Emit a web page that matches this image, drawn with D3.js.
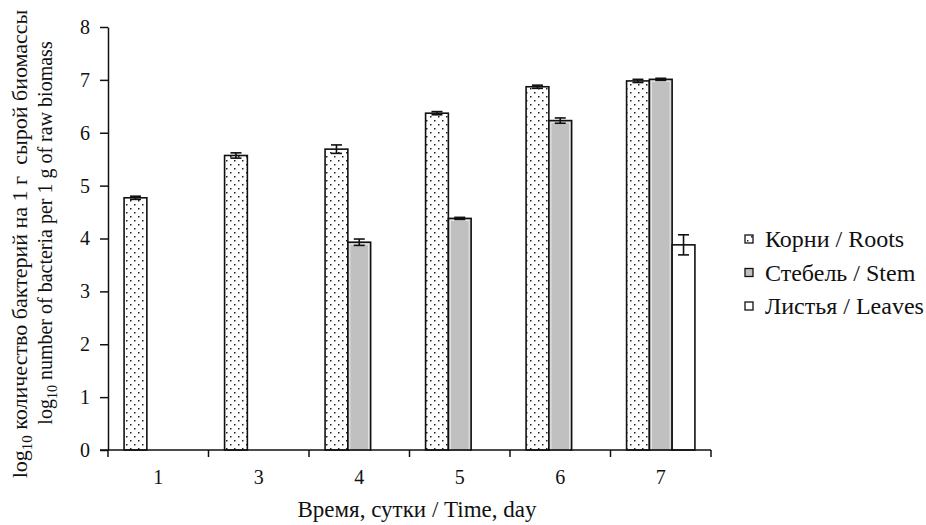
<!DOCTYPE html>
<html>
<head>
<meta charset="utf-8">
<script src="https://cdn.jsdelivr.net/npm/d3@7"></script>
<style>
  body { margin: 0; background: #fff; }
  text { font-family: "Liberation Serif", "Times New Roman", serif; fill: #111; }
</style>
</head>
<body>
<svg id="chart" width="926" height="525"></svg>
<script>
// data
var days = ['1', '3', '4', '5', '6', '7'];
var roots = [4.77, 5.57, 5.69, 6.37, 6.87, 6.98];
var rootsErr = [0.03, 0.05, 0.08, 0.03, 0.03, 0.03];
var stem = [null, null, 3.93, 4.38, 6.23, 7.01];
var stemErr = [null, null, 0.06, 0.02, 0.05, 0.02];
var leaves = [null, null, null, null, null, 3.88];
var leavesErr = [null, null, null, null, null, 0.19];
var seriesNames = ['Корни / Roots', 'Стебель / Stem', 'Листья / Leaves'];
var yTicks = [0, 1, 2, 3, 4, 5, 6, 7, 8];

var margin = {top: 27, left: 108, right: 215, bottom: 75};
var width = 926 - margin.left - margin.right,
    height = 525 - margin.top - margin.bottom;

var svg = d3.select('#chart');
var defs = svg.append('defs');

var pat = defs.append('pattern')
    .attr('id', 'dots')
    .attr('patternUnits', 'userSpaceOnUse')
    .attr('width', 8)
    .attr('height', 8);
pat.append('rect').attr('width', 8).attr('height', 8).attr('fill', '#fff');
pat.append('rect').attr('x', 2).attr('y', 1).attr('width', 1.5).attr('height', 1.5).attr('fill', '#222');
pat.append('rect').attr('x', 6).attr('y', 5).attr('width', 1.5).attr('height', 1.5).attr('fill', '#222');

var g = svg.append('g')
    .attr('transform', `translate(${margin.left}, ${margin.top})`);

var x0 = d3.scaleBand()
    .domain(days)
    .range([0, width])
    .paddingInner(0.32)
    .paddingOuter(0.16);

var x1 = d3.scaleBand()
    .domain([0, 1, 2])
    .range([0, x0.bandwidth()]);

var y = d3.scaleLinear()
    .domain([0, 8])
    .range([height, 0]);

var series = [
    {key: 0, values: roots, err: rootsErr, fill: 'url(#dots)'},
    {key: 1, values: stem, err: stemErr, fill: '#c0c0c0'},
    {key: 2, values: leaves, err: leavesErr, fill: '#fff'}
];

// bars
series.forEach(s => {
    var pts = days.map((d, i) => ({day: d, v: s.values[i], e: s.err[i]}))
                  .filter(p => p.v != null);

    var grp = g.append('g').classed('series-' + s.key, true);

    grp.selectAll('.bar')
        .data(pts)
        .enter()
        .append('rect')
            .classed('bar', true)
            .attr('x', p => x0(p.day) + x1(s.key))
            .attr('y', p => y(p.v))
            .attr('width', x1.bandwidth())
            .attr('height', p => height - y(p.v))
            .attr('fill', s.fill)
            .attr('stroke', '#111')
            .attr('stroke-width', 1.6);

    if (s.key === 1) {
        // light inner edge of the grey bars
        grp.selectAll('.inner')
            .data(pts)
            .enter()
            .append('rect')
                .attr('x', p => x0(p.day) + x1(s.key) + 2)
                .attr('y', p => y(p.v) + 2)
                .attr('width', x1.bandwidth() - 4)
                .attr('height', p => height - y(p.v) - 2)
                .attr('fill', 'none')
                .attr('stroke', '#e8e8e8')
                .attr('stroke-width', 1);
    }

    var eb = grp.selectAll('.err')
        .data(pts)
        .enter()
        .append('g')
            .classed('err', true)
            .attr('transform', p => `translate(${x0(p.day) + x1(s.key) + x1.bandwidth() / 2}, 0)`)
            .attr('stroke', '#111')
            .attr('stroke-width', 1.6);
    eb.append('line')
        .attr('y1', p => y(p.v + p.e))
        .attr('y2', p => y(p.v - p.e));
    eb.append('line')
        .attr('x1', -5.5).attr('x2', 5.5)
        .attr('y1', p => y(p.v + p.e))
        .attr('y2', p => y(p.v + p.e));
    eb.append('line')
        .attr('x1', -5.5).attr('x2', 5.5)
        .attr('y1', p => y(p.v - p.e))
        .attr('y2', p => y(p.v - p.e));
});

// y axis
var yAxis = g.append('g')
    .call(d3.axisLeft(y).tickValues(yTicks).tickSize(8).tickPadding(10).tickSizeOuter(0));
yAxis.select('.domain').attr('stroke', '#111').attr('stroke-width', 1.5);
yAxis.selectAll('.tick line').attr('stroke', '#111').attr('stroke-width', 1.5);
yAxis.selectAll('.tick text')
    .style('font-size', '20px')
    .style('font-family', '"Liberation Serif", serif')
    .attr('fill', '#111');

// x axis: labels centred, ticks at category edges
var xAxis = g.append('g')
    .attr('transform', `translate(0, ${height})`)
    .call(d3.axisBottom(x0).tickSize(0).tickPadding(20));
xAxis.select('.domain').remove();
xAxis.selectAll('.tick text')
    .style('font-size', '20px')
    .style('font-family', '"Liberation Serif", serif')
    .attr('fill', '#111');

var edges = d3.range(days.length + 1);
var step = x0.step();
var edgeX = i => x0(days[0]) - step * 0.16 + i * step;
g.append('line')
    .attr('x1', -8).attr('x2', width)
    .attr('y1', height).attr('y2', height)
    .attr('stroke', '#111').attr('stroke-width', 1.5);
g.selectAll('.xedge')
    .data(edges)
    .enter()
    .append('line')
        .classed('xedge', true)
        .attr('x1', edgeX).attr('x2', edgeX)
        .attr('y1', height).attr('y2', height + 7)
        .attr('stroke', '#111').attr('stroke-width', 1.5);

// axis titles
svg.append('text')
    .attr('x', 417)
    .attr('y', 517)
    .style('font-size', '23px')
    .style('text-anchor', 'middle')
    .text('Время, сутки / Time, day');

var l1 = svg.append('text')
    .attr('transform', 'translate(27, 244) rotate(-90)')
    .style('font-size', '22px')
    .style('text-anchor', 'middle');
l1.append('tspan').text('log');
l1.append('tspan').attr('dy', 5).style('font-size', '15px').text('10');
l1.append('tspan').attr('dy', -5).text(' количество бактерий на 1 г\u00a0 сырой биомассы');

var l2 = svg.append('text')
    .attr('transform', 'translate(52, 233) rotate(-90)')
    .style('font-size', '20px')
    .style('text-anchor', 'middle');
l2.append('tspan').text('log');
l2.append('tspan').attr('dy', 5).style('font-size', '14px').text('10');
l2.append('tspan').attr('dy', -5).text(' number of bacteria per 1 g of raw biomass');

// legend
var legend = svg.append('g').attr('transform', 'translate(745, 239)');
var legendFill = ['url(#dots)', '#c0c0c0', '#fff'];
var li = legend.selectAll('.item')
    .data(seriesNames)
    .enter()
    .append('g')
        .classed('item', true)
        .attr('transform', (d, i) => `translate(0, ${i * 33.5})`);
li.append('rect')
    .attr('x', 0).attr('y', -4)
    .attr('width', 8).attr('height', 8)
    .attr('fill', (d, i) => legendFill[i])
    .attr('stroke', '#111')
    .attr('stroke-width', 1.3);
li.append('text')
    .attr('x', 20)
    .attr('dy', '0.35em')
    .style('font-size', '24px')
    .text(d => d);
</script>
</body>
</html>
